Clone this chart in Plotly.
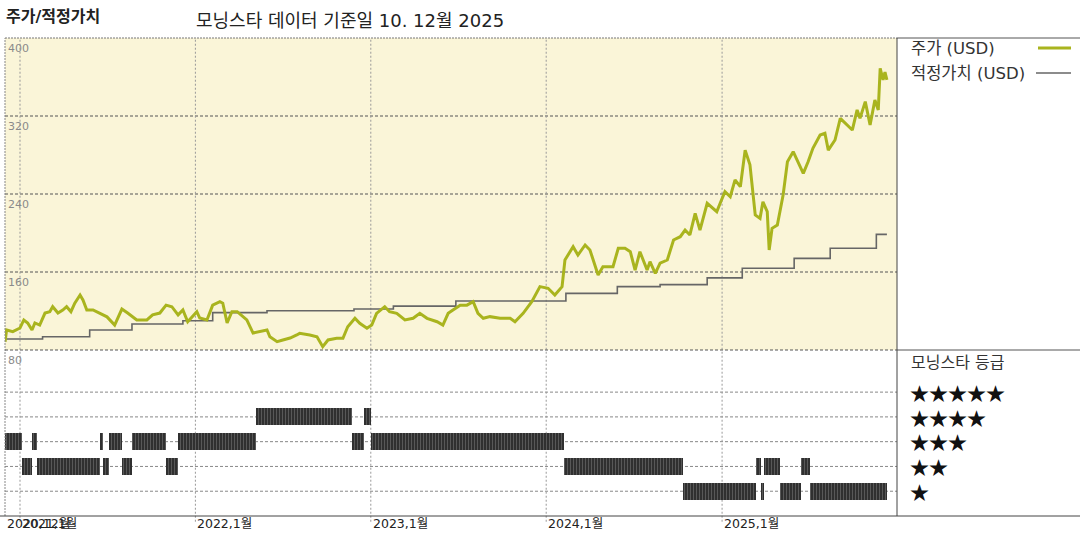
import plotly.graph_objects as go
import pandas as pd

# ---------------- data ----------------
price_dates = [
    "2020-12-01", "2020-12-04", "2020-12-17", "2021-01-01", "2021-01-09", "2021-01-17", "2021-01-26",
    "2021-02-01", "2021-02-11", "2021-02-22", "2021-03-04", "2021-03-10", "2021-03-21", "2021-03-31",
    "2021-04-08", "2021-04-17", "2021-04-25", "2021-05-06", "2021-05-12", "2021-05-20", "2021-06-02",
    "2021-06-16", "2021-07-01", "2021-07-17", "2021-08-01", "2021-08-13", "2021-09-01", "2021-09-22",
    "2021-10-04", "2021-10-19", "2021-11-01", "2021-11-13", "2021-11-26", "2021-12-06", "2021-12-16",
    "2022-01-04", "2022-01-10", "2022-01-25", "2022-02-06", "2022-02-21", "2022-02-27", "2022-03-08",
    "2022-03-18", "2022-03-29", "2022-04-18", "2022-05-01", "2022-05-15", "2022-05-30", "2022-06-05",
    "2022-06-20", "2022-07-02", "2022-07-17", "2022-07-31", "2022-08-06", "2022-08-27", "2022-09-11",
    "2022-09-23", "2022-10-04", "2022-10-22", "2022-11-04", "2022-11-14", "2022-11-29", "2022-12-09",
    "2022-12-24", "2023-01-03", "2023-01-13", "2023-01-30", "2023-02-09", "2023-02-24", "2023-03-13",
    "2023-03-30", "2023-04-13", "2023-04-28", "2023-05-19", "2023-05-31", "2023-06-11", "2023-06-21",
    "2023-07-06", "2023-07-20", "2023-08-02", "2023-08-12", "2023-08-23", "2023-09-06", "2023-09-27",
    "2023-10-18", "2023-10-28", "2023-11-14", "2023-12-02", "2023-12-19", "2024-01-05", "2024-01-19",
    "2024-02-03", "2024-02-09", "2024-02-26", "2024-03-07", "2024-03-22", "2024-04-01", "2024-04-18",
    "2024-04-28", "2024-05-19", "2024-05-30", "2024-06-13", "2024-06-24", "2024-07-04", "2024-07-14",
    "2024-07-29", "2024-08-04", "2024-08-15", "2024-08-25", "2024-09-09", "2024-09-22", "2024-10-06",
    "2024-10-16", "2024-10-26", "2024-11-06", "2024-11-16", "2024-12-01", "2024-12-13", "2024-12-21",
    "2024-12-28", "2025-01-07", "2025-01-18", "2025-01-28", "2025-02-08", "2025-02-18", "2025-02-28",
    "2025-03-11", "2025-03-21", "2025-03-27", "2025-04-05", "2025-04-09", "2025-04-15", "2025-04-26",
    "2025-05-08", "2025-05-17", "2025-05-29", "2025-06-12", "2025-06-19", "2025-06-29", "2025-07-09",
    "2025-07-24", "2025-08-03", "2025-08-10", "2025-08-24", "2025-09-04", "2025-09-18", "2025-09-29",
    "2025-10-09", "2025-10-15", "2025-10-26", "2025-11-05", "2025-11-15", "2025-11-22", "2025-11-26",
    "2025-12-02", "2025-12-06", "2025-12-10",
]
price_values = [
    88.5, 100.5, 98.8, 102.6, 110.8, 107.7, 100.5,
    107.7, 105.6, 117.9, 119.3, 124.4, 117.9, 121,
    124.4, 119.3, 128, 136.4, 131.3, 121, 121,
    117.9, 114, 105.6, 122, 117.9, 110.8, 110.8,
    116, 117.9, 126, 124.4, 116, 121, 109,
    119.3, 112.8, 110.8, 126, 129.5, 128, 107.7,
    119.3, 119.3, 110.8, 97.4, 98.8, 100.5, 93.6,
    88.5, 90.3, 92.3, 95.4, 97.1, 95.4, 93.6,
    83.4, 90.3, 92, 92, 103.9, 112.5, 107.4,
    102.3, 105.6, 117.6, 124.4, 119.3, 117.6, 110.8,
    112.5, 117.6, 112.5, 109, 105.6, 117.6, 121,
    126, 126, 129.5, 117.6, 112.5, 114.2, 112.5,
    112.5, 109, 117.6, 129.5, 145, 143.3, 136.4,
    145, 172.3, 186, 177.4, 187.7, 182.6, 157,
    165.5, 165.5, 184.3, 184.3, 180.8, 162, 180.8,
    162, 170.6, 158.6, 169, 172.3, 192.8, 196.2,
    203, 198, 220.2, 203, 230.5, 225.3, 221.9,
    230.5, 242.4, 237.2, 254.4, 247.5, 285, 270,
    218.5, 215, 232, 221.9, 182.6, 204.8, 208.2,
    239, 273.1, 283.4, 269.7, 261.2, 273.1, 286.9,
    300.5, 302.3, 285, 295.4, 317.6, 310.8, 305.6,
    326.2, 317.6, 334.7, 310.8, 336.4, 326.2, 368.9,
    357, 365, 357,
]

fair_dates = [
    "2020-12-01", "2021-02-17", "2021-05-26", "2021-08-22", "2021-12-06", "2022-02-06",
    "2022-05-30", "2022-11-27", "2023-02-17", "2023-06-27", "2024-02-11", "2024-05-28",
    "2024-08-25", "2024-12-01", "2025-02-12", "2025-05-31", "2025-08-14", "2025-11-18",
    "2025-12-10",
]
fair_values = [
    91.3, 93.6, 100.5, 106.7, 110, 118.3,
    120.3, 122, 125, 130.3, 138.1, 145,
    147, 154, 163.8, 174, 184.3, 198.6,
    198.6,
]

rating_starts = [
    "2020-12-01", "2021-01-05", "2021-01-26", "2021-02-05", "2021-06-16", "2021-06-22",
    "2021-07-05", "2021-08-01", "2021-08-22", "2021-11-01", "2021-11-25", "2022-05-07",
    "2022-11-23", "2022-12-18", "2023-01-01", "2024-02-07", "2024-10-12", "2025-03-13",
    "2025-03-23", "2025-03-29", "2025-05-02", "2025-06-14", "2025-07-03",
]
rating_ends = [
    "2021-01-05", "2021-01-26", "2021-02-05", "2021-06-16", "2021-06-22", "2021-07-05",
    "2021-08-01", "2021-08-22", "2021-11-01", "2021-11-25", "2022-05-07", "2022-11-23",
    "2022-12-18", "2023-01-01", "2024-02-07", "2024-10-12", "2025-03-13", "2025-03-23",
    "2025-03-29", "2025-05-02", "2025-06-14", "2025-07-03", "2025-12-10",
]
rating_stars = [3, 2, 3, 2, 3, 2, 3, 2, 3, 2, 3, 4, 3, 4, 3, 2, 1, 2, 1, 2, 1, 2, 1]

year_ticks = ["2021-01-01", "2022-01-01", "2023-01-01", "2024-01-01", "2025-01-01"]
x_label_dates = ["2020-12-01", "2021-01-01", "2022-01-01", "2023-01-01", "2024-01-01", "2025-01-01"]
x_labels = ["2020,12월", "2021,1월", "2022,1월", "2023,1월", "2024,1월", "2025,1월"]
price_ticks = [400, 320, 240, 160, 80]
star_levels = [5, 4, 3, 2, 1]

# ---------------- styling ----------------
FONT = "DejaVu Sans, Noto Sans CJK KR, sans-serif"
STAR_FONT = "Noto Sans CJK KR, DejaVu Sans, sans-serif"
CREAM = "#FAF5D8"
OLIVE = "#A9B41E"
GRAY = "#666666"
W, H = 1080, 540
ML, MR, MT, MB = 5, 183, 38, 24
PW = W - ML - MR
PH = H - MT - MB
SPLIT = (516 - 350) / PH  # lower panel height fraction
XMAX_PAPER = (W - ML) / PW


def px_x(p):
    return (p - ML) / PW


def px_y(p):
    return (H - MB - p) / PH


fig = go.Figure()

fig.add_trace(go.Scatter(
    x=fair_dates, y=fair_values, mode="lines", line=dict(color=GRAY, width=1.6, shape="hv"),
    xaxis="x", yaxis="y", showlegend=False, hoverinfo="skip"))
fig.add_trace(go.Scatter(
    x=price_dates, y=price_values, mode="lines", line=dict(color=OLIVE, width=3),
    xaxis="x", yaxis="y", showlegend=False))

durations = [
    (pd.to_datetime(e) - pd.to_datetime(s)).total_seconds() * 1000
    for s, e in zip(rating_starts, rating_ends)
]
fig.add_trace(go.Bar(
    y=rating_stars, x=durations, base=rating_starts, orientation="h",
    xaxis="x2", yaxis="y2", width=0.68, showlegend=False,
    marker=dict(color="#303030", line=dict(width=0),
                pattern=dict(shape="|", fgcolor="#9a9a9a", size=3, solidity=0.25))))

shapes = []
shapes.append(dict(type="rect", xref="paper", yref="paper", x0=0, x1=1, y0=SPLIT, y1=1,
                   fillcolor=CREAM, line=dict(width=0), layer="below"))
for v in [160, 240, 320]:
    shapes.append(dict(type="line", xref="paper", yref="y", x0=0, x1=1, y0=v, y1=v,
                       line=dict(color="#555555", width=1, dash="3px,2px"), layer="below"))
for s in star_levels:
    shapes.append(dict(type="line", xref="paper", yref="y2", x0=0, x1=1, y0=s, y1=s,
                       line=dict(color="#888888", width=1, dash="3px,2px"), layer="below"))
for d in year_ticks:
    shapes.append(dict(type="line", xref="x", yref="paper", x0=d, x1=d, y0=-0.012, y1=1,
                       line=dict(color="#999999", width=1, dash="2px,2px"), layer="below"))
shapes += [
    dict(type="line", xref="paper", yref="paper", x0=0, x1=1, y0=1, y1=1,
         line=dict(color="#777777", width=1, dash="2px,1px")),
    dict(type="line", xref="paper", yref="paper", x0=0, x1=0, y0=0, y1=1,
         line=dict(color="#888888", width=1, dash="2px,1px")),
    dict(type="line", xref="paper", yref="paper", x0=0, x1=1, y0=SPLIT, y1=SPLIT,
         line=dict(color="#555555", width=1, dash="3px,2px")),
    dict(type="line", xref="paper", yref="paper", x0=1, x1=XMAX_PAPER, y0=1, y1=1,
         line=dict(color="#555555", width=1)),
    dict(type="line", xref="paper", yref="paper", x0=1, x1=XMAX_PAPER, y0=SPLIT, y1=SPLIT,
         line=dict(color="#555555", width=1)),
    dict(type="line", xref="paper", yref="paper", x0=1, x1=1, y0=0, y1=1,
         line=dict(color="#444444", width=1)),
    dict(type="line", xref="paper", yref="paper", x0=-0.006, x1=XMAX_PAPER, y0=0, y1=0,
         line=dict(color="#444444", width=1)),
    dict(type="line", xref="paper", yref="paper", x0=px_x(1038), x1=px_x(1071),
         y0=px_y(48), y1=px_y(48), line=dict(color=OLIVE, width=3)),
    dict(type="line", xref="paper", yref="paper", x0=px_x(1036), x1=px_x(1071),
         y0=px_y(73), y1=px_y(73), line=dict(color=GRAY, width=1.5)),
]

ann = []
ann.append(dict(text="<b>주가/적정가치</b>", xref="paper", yref="paper", x=px_x(4), y=px_y(16),
                xanchor="left", yanchor="middle", showarrow=False,
                font=dict(size=16, color="#222222", family=FONT)))
ann.append(dict(text="모닝스타 데이터 기준일 10. 12월 2025", xref="paper", yref="paper",
                x=px_x(194), y=px_y(21), xanchor="left", yanchor="middle", showarrow=False,
                font=dict(size=18, color="#222222", family=FONT)))
for v in price_ticks:
    ann.append(dict(text=str(v), xref="paper", yref="y", x=px_x(6), y=v, xanchor="left",
                    yanchor="top", yshift=-2, showarrow=False,
                    font=dict(size=11, color="#8a8a8a", family=FONT)))
for d, t in zip(x_label_dates, x_labels):
    ann.append(dict(text=t, xref="x", yref="paper", x=d, y=px_y(523), xanchor="left",
                    yanchor="middle", showarrow=False,
                    font=dict(size=12.5, color="#222222", family=FONT)))
ann.append(dict(text="주가 (USD)", xref="paper", yref="paper", x=px_x(909), y=px_y(48),
                xanchor="left", yanchor="middle", showarrow=False,
                font=dict(size=16.5, color="#333333", family=FONT)))
ann.append(dict(text="적정가치 (USD)", xref="paper", yref="paper", x=px_x(909), y=px_y(73),
                xanchor="left", yanchor="middle", showarrow=False,
                font=dict(size=16.5, color="#333333", family=FONT)))
ann.append(dict(text="모닝스타 등급", xref="paper", yref="paper", x=px_x(909), y=px_y(362),
                xanchor="left", yanchor="middle", showarrow=False,
                font=dict(size=16, color="#333333", family=FONT)))
# one multi-line block of stars, one line per rating level (5 at top)
ann.append(dict(text="<br>".join("★" * s for s in star_levels), xref="paper", yref="y2",
                x=px_x(908), y=3, xanchor="left", yanchor="middle", align="left",
                showarrow=False, font=dict(size=19, color="#111111", family=STAR_FONT)))

x_range = ["2020-11-30 19:00", "2025-12-31"]
fig.update_layout(
    width=W, height=H,
    margin=dict(l=ML, r=MR, t=MT, b=MB, pad=0),
    paper_bgcolor="white", plot_bgcolor="rgba(0,0,0,0)",
    font=dict(family=FONT),
    showlegend=False,
    bargap=0,
    xaxis=dict(type="date", range=x_range, domain=[0, 1], anchor="y", showgrid=False,
               showticklabels=False, zeroline=False, showline=False, ticks=""),
    xaxis2=dict(type="date", range=x_range, domain=[0, 1], anchor="y2", matches="x",
                showgrid=False, showticklabels=False, zeroline=False, showline=False, ticks=""),
    yaxis=dict(range=[80, 400], domain=[SPLIT, 1], showgrid=False, showticklabels=False,
               zeroline=False, showline=False, ticks=""),
    yaxis2=dict(range=[0, 6.7], domain=[0, SPLIT], showgrid=False, showticklabels=False,
                zeroline=False, showline=False, ticks=""),
    shapes=shapes,
    annotations=ann,
)

fig.write_html("out.html", config={"displayModeBar": False},
               post_script="document.body.style.margin='0px';")
